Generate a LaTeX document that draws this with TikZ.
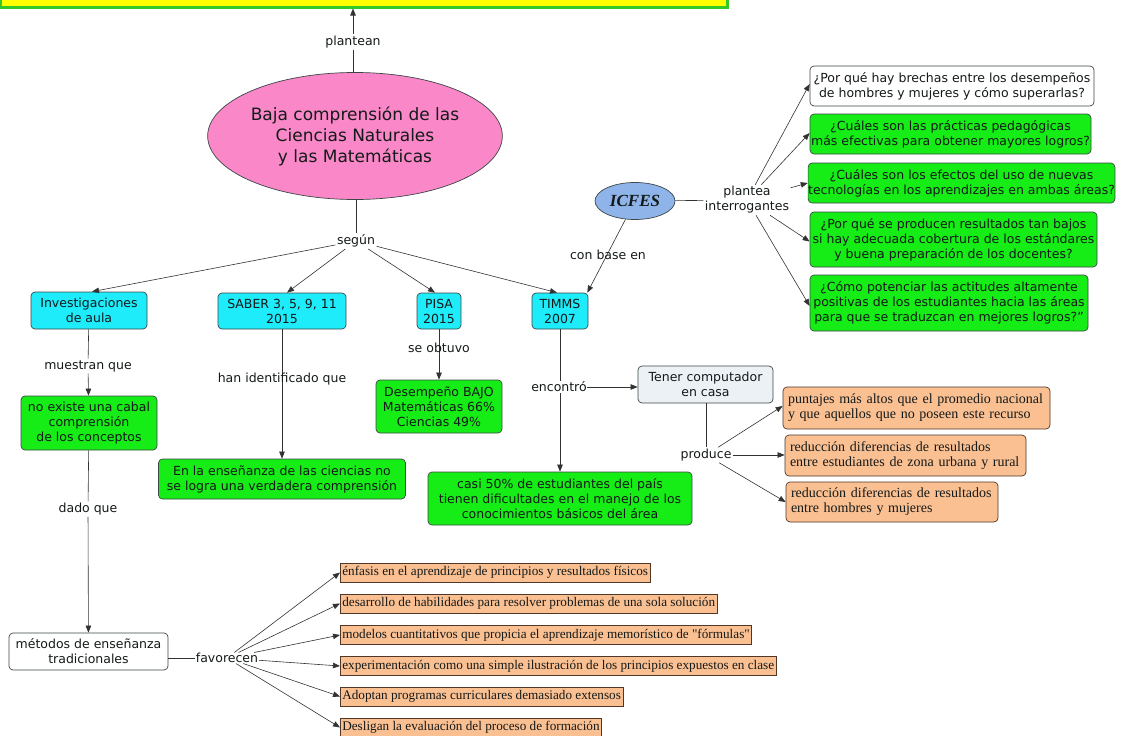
\documentclass[tikz,border=0pt]{standalone}
\usepackage{fontspec}
\newfontfamily\vsans{DejaVu Sans}
\newfontfamily\tserif{Liberation Serif}
\usetikzlibrary{shapes.geometric,arrows.meta}

\definecolor{cyanfill}{RGB}{30,236,250}
\definecolor{greenfill}{RGB}{22,236,22}
\definecolor{peach}{RGB}{250,192,146}
\definecolor{pinkfill}{RGB}{250,136,200}
\definecolor{icfesblue}{RGB}{142,180,234}
\definecolor{grayfill}{RGB}{236,241,245}
\definecolor{boxline}{RGB}{60,70,70}
\definecolor{brownline}{RGB}{80,55,40}
\definecolor{conncol}{RGB}{50,50,50}
\definecolor{txt}{RGB}{20,25,25}
\definecolor{bannerfill}{RGB}{255,255,0}
\definecolor{bannerline}{RGB}{50,200,40}

\begin{document}
\begin{tikzpicture}[x=1pt,y=-1pt,
  sansfont/.style={font=\vsans\fontsize{12.5}{15}\selectfont},
  box/.style={draw=boxline, line width=0.7pt, rounded corners=4pt, align=center,
    inner sep=0pt, sansfont, text=txt},
  cyanbox/.style={box, fill=cyanfill},
  greenbox/.style={box, fill=greenfill},
  plainbox/.style={box, fill=white},
  graybox/.style={box, fill=grayfill},
  peachbox/.style={draw=brownline, line width=0.7pt, rounded corners=4pt, fill=peach,
    align=left, inner xsep=5pt, inner ysep=0pt, text=txt,
    font=\tserif\fontsize{14}{15}\selectfont},
  peachrect/.style={draw=brownline, line width=0.7pt, fill=peach, anchor=west,
    inner xsep=2pt, inner ysep=0pt, minimum height=19, text=txt,
    font=\tserif\fontsize{13.2}{14}\selectfont},
  lbl/.style={sansfont, inner sep=1.5pt, text=txt, align=center},
  lblw/.style={lbl, fill=white},
  conn/.style={draw=conncol, line width=0.6pt},
  arr/.style={conn, -{Triangle[length=7pt,width=5.5pt]}}
]
\useasboundingbox (0,0) rectangle (1143,736);

% title strip along the top edge
\node[draw=bannerline, line width=3pt, fill=bannerfill, minimum width=727,
  minimum height=34, anchor=south] (banner) at (364,8.5) {};

% central problem
\node[ellipse, draw=boxline, line width=0.7pt, fill=pinkfill, minimum width=256,
  minimum height=127, inner sep=0pt, align=center, text=txt,
  font=\vsans\fontsize{17}{21}\selectfont] (baja) at (355,136)
  {Baja comprensión de las\\Ciencias Naturales\\y las Matemáticas};

\node[lblw] (plantean) at (353,42) {plantean};
\draw[conn] (baja.north -| plantean) -- (plantean);
\draw[arr] (plantean) -- (plantean |- banner.south);

\node[lblw] (segun) at (356,241) {según};
\draw[conn] (baja.south -| segun) -- (segun);

% sources
\node[cyanbox, minimum width=116, minimum height=37] (inv) at (89,310.5) {Investigaciones\\de aula};
\node[cyanbox, minimum width=128, minimum height=36] (saber) at (282,311) {SABER 3, 5, 9, 11\\2015};
\node[cyanbox, minimum width=44, minimum height=36] (pisa) at (439,311) {PISA\\2015};
\node[cyanbox, minimum width=56, minimum height=36] (timms) at (560,311) {TIMMS\\2007};

\draw[arr] (segun) -- ([xshift=3]inv.north);
\draw[arr] (segun) -- ([xshift=5]saber.north);
\draw[arr] (segun) -- ([xshift=-4]pisa.north);
\draw[arr] (segun) -- ([xshift=-3]timms.north);

% research in the classroom
\node[greenbox, minimum width=136, minimum height=54] (noex) at (89,423)
  {no existe una cabal\\comprensión\\de los conceptos};
\node[lblw] (muestran) at (88,366) {muestran que};
\draw[conn] (inv) -- (muestran);
\draw[arr] (muestran) -- (noex);

\node[plainbox, minimum width=159, minimum height=37] (metodos) at (88.5,651.5)
  {métodos de enseñanza\\tradicionales};
\node[lblw] (dado) at (88,509) {dado que};
\draw[conn] (noex) -- (dado);
\draw[arr] (dado) -- (metodos);

% SABER
\node[greenbox, minimum width=247, minimum height=40] (enla) at (282,479)
  {En la enseñanza de las ciencias no\\se logra una verdadera comprensión};
\draw[arr] (saber) -- (saber |- enla.north);
\node[lbl] (hanid) at (282,379) {han identificado que};

% PISA
\node[greenbox, minimum width=126, minimum height=53] (desemp) at (439,406.5)
  {Desempeño BAJO\\Matemáticas 66\%\\Ciencias 49\%};
\draw[arr] (pisa) -- (desemp);
\node[lbl] (seobt) at (439,348) {se obtuvo};

% TIMMS
\node[greenbox, minimum width=264, minimum height=53] (casi) at (560,498.5)
  {casi 50\% de estudiantes del país\\tienen dificultades en el manejo de los\\conocimientos básicos del área};
\draw[arr] (timms) -- (casi);
\node[lbl, fill=white, inner sep=0.5pt] (encontro) at (559,387) {encontró};

\node[graybox, minimum width=135, minimum height=37] (tener) at (705.5,384.5)
  {Tener computador\\en casa};
\draw[arr] (encontro.east) -- (encontro.east -| tener.west);

\node[lblw] (produce) at (706,455) {produce};
\draw[conn] (tener.south -| produce) -- (produce);

\node[peachbox, text width=257, minimum height=42] (o1) at (916.5,408)
  {puntajes más altos que el promedio nacional\\y que aquellos que no poseen este recurso};
\node[peachbox, text width=231, minimum height=41] (o2) at (905.5,455.5)
  {reducción diferencias de resultados\\entre estudiantes de zona urbana y rural};
\node[peachbox, text width=202, minimum height=40] (o3) at (892,502)
  {reducción diferencias de resultados\\entre hombres y mujeres};
\draw[arr] (produce) -- ([yshift=2]o1.west);
\draw[arr] (produce.east) -- (produce.east -| o2.west);
\draw[arr] (produce) -- (o3.west);

% ICFES
\node[ellipse, draw=boxline, line width=0.7pt, fill=icfesblue, minimum width=80,
  minimum height=37, inner sep=0pt, text=txt,
  font=\tserif\bfseries\itshape\fontsize{17}{20}\selectfont] (icfes) at (635,201) {ICFES};
\draw[arr] (icfes) -- ([xshift=-1]timms.north east);
\node[lbl] (conbase) at (608,255) {con base en};

\node[lblw] (plantea) at (747,200) {plantea\\interrogantes};
\draw[conn] (icfes) -- (plantea);

\node[plainbox, minimum width=284, minimum height=40] (q1) at (952,86)
  {¿Por qué hay brechas entre los desempeños\\de hombres y mujeres y cómo superarlas?};
\node[greenbox, minimum width=281, minimum height=40] (q2) at (950.5,134)
  {¿Cuáles son las prácticas pedagógicas\\más efectivas para obtener mayores logros?};
\node[greenbox, minimum width=303, minimum height=40] (q3) at (961.5,183)
  {¿Cuáles son los efectos del uso de nuevas\\tecnologías en los aprendizajes en ambas áreas?};
\node[greenbox, minimum width=287, minimum height=55] (q4) at (953.5,239.5)
  {¿Por qué se producen resultados tan bajos\\si hay adecuada cobertura de los estándares\\y buena preparación de los docentes?};
\node[greenbox, minimum width=278, minimum height=56] (q5) at (949,303)
  {¿Cómo potenciar las actitudes altamente\\positivas de los estudiantes hacia las áreas\\para que se traduzcan en mejores logros?”};

\draw[arr] (plantea) -- ([yshift=2]q1.west);
\draw[arr] (plantea) -- ([yshift=1]q2.west);
\draw[arr] (plantea) -- (q3.west);
\draw[arr] (plantea) -- ([yshift=-2]q4.west);
\draw[arr] (plantea) -- ([yshift=-3]q5.west);

% traditional teaching
\node[lbl, fill=white, inner sep=0.5pt] (favor) at (227,658) {favorecen};
\draw[conn] (metodos.east |- favor) -- (favor);

\node[peachrect] (b1) at (340,572.5) {énfasis en el aprendizaje de principios y resultados físicos};
\node[peachrect] (b2) at (340,603.5) {desarrollo de habilidades para resolver problemas de una sola solución};
\node[peachrect] (b3) at (340,635) {modelos cuantitativos que propicia el aprendizaje memorístico de "fórmulas"};
\node[peachrect] (b4) at (340,666) {experimentación como una simple ilustración de los principios expuestos en clase};
\node[peachrect] (b5) at (340,696.5) {Adoptan programas curriculares demasiado extensos};
\node[peachrect] (b6) at (340,727.5) {Desligan la evaluación del proceso de formación};

\foreach \b in {b1,b2,b3,b4,b5,b6}
  \draw[arr] (favor) -- (\b.west);
\end{tikzpicture}
\end{document}
